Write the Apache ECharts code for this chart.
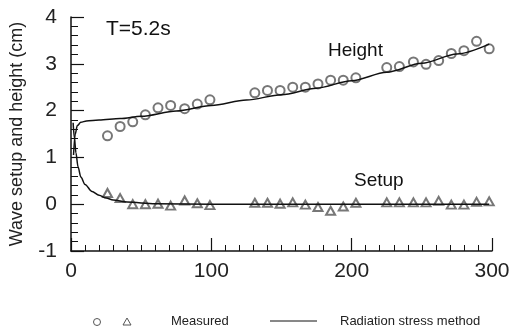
<!DOCTYPE html>
<html>
<head>
<meta charset="utf-8">
<script src="https://cdn.jsdelivr.net/npm/echarts@6/dist/echarts.min.js"></script>
<style>
  html, body { margin: 0; padding: 0; background: #fff; }
  #chart { width: 514px; height: 333px; }
</style>
</head>
<body>
<div id="chart"></div>
<script>
// measured points (x in m, value in cm)
const heightX = [26, 35, 44, 53, 62, 71, 81, 90, 99, 131, 140, 149, 158, 167, 176, 185, 194, 203, 225, 234, 244, 253, 262, 271, 280, 289, 298]
const heightY = [1.46, 1.66, 1.76, 1.91, 2.06, 2.11, 2.04, 2.14, 2.23, 2.38, 2.43, 2.43, 2.50, 2.50, 2.57, 2.65, 2.65, 2.70, 2.92, 2.94, 3.04, 2.99, 3.07, 3.22, 3.28, 3.48, 3.32]
const setupX = [26, 35, 44, 53, 62, 71, 81, 90, 99, 131, 140, 149, 158, 167, 176, 185, 194, 203, 225, 234, 244, 253, 262, 271, 280, 289, 298]
const setupY = [0.24, 0.13, 0.0, 0.0, 0.01, -0.03, 0.08, 0.02, -0.02, 0.03, 0.03, 0.01, 0.04, -0.01, -0.06, -0.14, -0.05, 0.03, 0.04, 0.04, 0.04, 0.04, 0.07, -0.01, -0.01, 0.05, 0.06]

// radiation stress method curves
const modelHeightX = [1.8, 3, 4.5, 7, 11, 20, 35, 50, 75, 100, 125, 150, 175, 200, 225, 250, 275, 298]
const modelHeightY = [1.05, 1.5, 1.68, 1.75, 1.78, 1.8, 1.83, 1.88, 1.99, 2.11, 2.225, 2.34, 2.48, 2.64, 2.82, 3.01, 3.21, 3.42]
const modelSetupX = [1.5, 2.5, 3.5, 5, 7, 10, 15, 20, 25, 30, 40, 60, 100, 200, 298]
const modelSetupY = [1.74, 1.4, 1.1, 0.8, 0.58, 0.42, 0.27, 0.19, 0.13, 0.09, 0.045, 0.01, 0, 0, 0]

const xTicks = [0, 100, 200, 300]
const yTicks = [-1, 0, 1, 2, 3, 4]

const zip = (xs, ys) => xs.map((x, i) => [x, ys[i]])

const chart = echarts.init(document.getElementById('chart'), null, { renderer: 'canvas' })

const axisCommon = {
  axisLine: { onZero: false, lineStyle: { color: '#111', width: 1.5 } },
  axisTick: { inside: true, length: 13, lineStyle: { color: '#111', width: 1.2 } },
  minorTick: { show: true, length: 7, lineStyle: { color: '#111', width: 1 } },
  splitLine: { show: false },
  axisLabel: { fontSize: 21, color: '#222', fontFamily: 'Liberation Sans' }
}

const options = {
  backgroundColor: '#fff',
  animation: false,
  grid: { left: 71, right: 22, top: 17, bottom: 82 },
  xAxis: {
    type: 'value',
    min: xTicks[0],
    max: xTicks[xTicks.length - 1],
    interval: 100,
    ...axisCommon,
    minorTick: { ...axisCommon.minorTick, splitNumber: 10, length: 6 },
    axisLabel: { ...axisCommon.axisLabel, margin: 10 }
  },
  yAxis: {
    type: 'value',
    min: yTicks[0],
    max: yTicks[yTicks.length - 1],
    interval: 1,
    name: 'Wave setup and height (cm)',
    nameLocation: 'middle',
    nameGap: 45,
    nameTextStyle: { fontSize: 18, color: '#222', fontFamily: 'Liberation Sans' },
    ...axisCommon,
    minorTick: { ...axisCommon.minorTick, splitNumber: 5 },
    axisLabel: { ...axisCommon.axisLabel, margin: 14 }
  },
  series: [
    {
      name: 'Radiation stress method',
      type: 'line',
      data: zip(modelHeightX, modelHeightY),
      smooth: 0.3,
      smoothMonotone: 'x',
      showSymbol: false,
      lineStyle: { color: '#111', width: 1.5 }
    },
    {
      name: 'Radiation stress method',
      type: 'line',
      data: zip(modelSetupX, modelSetupY),
      smooth: 0.3,
      smoothMonotone: 'x',
      showSymbol: false,
      lineStyle: { color: '#111', width: 1.5 }
    },
    {
      name: 'Measured',
      type: 'scatter',
      data: zip(heightX, heightY),
      symbol: 'emptyCircle',
      symbolSize: 9,
      itemStyle: { color: '#555', borderColor: '#555', borderWidth: 1 }
    },
    {
      name: 'Measured',
      type: 'scatter',
      data: zip(setupX, setupY),
      symbol: 'emptyTriangle',
      symbolSize: [9, 8],
      itemStyle: { color: '#555', borderColor: '#555', borderWidth: 1 }
    }
  ],
  graphic: [
    { type: 'text', left: 106, top: 19, style: { text: 'T=5.2s', fontSize: 21, fill: '#111', fontFamily: 'Liberation Sans' } },
    { type: 'text', left: 328, top: 41, style: { text: 'Height', fontSize: 19, fill: '#111', fontFamily: 'Liberation Sans' } },
    { type: 'text', left: 354, top: 171, style: { text: 'Setup', fontSize: 19, fill: '#111', fontFamily: 'Liberation Sans' } },
    // legend row
    { type: 'circle', shape: { cx: 97, cy: 322, r: 3.5 }, style: { fill: 'none', stroke: '#555', lineWidth: 1 } },
    { type: 'polygon', shape: { points: [[127, 318], [131, 325], [123, 325]] }, style: { fill: 'none', stroke: '#555', lineWidth: 1 } },
    { type: 'text', left: 171, top: 315, style: { text: 'Measured', fontSize: 13, fill: '#222', fontFamily: 'Liberation Sans' } },
    { type: 'line', shape: { x1: 270, y1: 321, x2: 317, y2: 321 }, style: { stroke: '#111', lineWidth: 1 } },
    { type: 'text', left: 340, top: 315, style: { text: 'Radiation stress method', fontSize: 13, fill: '#222', fontFamily: 'Liberation Sans' } }
  ]
}

chart.setOption(options)
</script>
</body>
</html>
